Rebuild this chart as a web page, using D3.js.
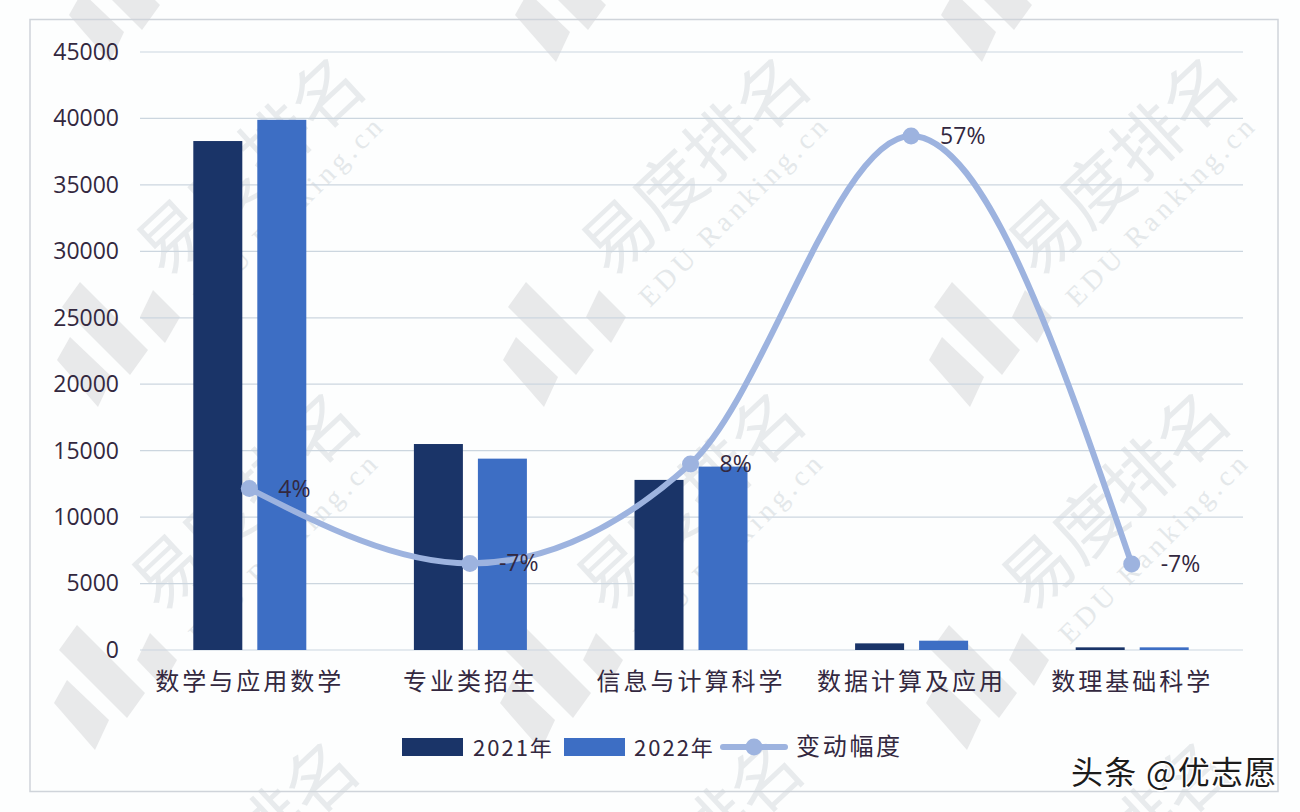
<!DOCTYPE html>
<html>
<head>
<meta charset="utf-8">
<script src="https://cdn.jsdelivr.net/npm/d3@7"></script>
<style>
  html, body { margin: 0; padding: 0; background: #fff; }
  svg { display: block; }
  text { font-family: "Noto Sans CJK SC", "Noto Sans", sans-serif; }
</style>
</head>
<body>
<script>
var categories = ['数学与应用数学', '专业类招生', '信息与计算科学', '数据计算及应用', '数理基础科学'];
var values2021 = [38300, 15500, 12800, 500, 200];
var values2022 = [39900, 14400, 13800, 700, 200];
var changeValues = [4.1, -7.1, 7.8, 56.9, -7.2];
var changeLabels = ['4%', '-7%', '8%', '57%', '-7%'];
var yTicks = [0, 5000, 10000, 15000, 20000, 25000, 30000, 35000, 40000, 45000];
var seriesNames = ['2021年', '2022年', '变动幅度'];

var width = 1300, height = 812;
var textColor = '#33283f', darkBlue = '#1a3468', midBlue = '#3d6ec4', lineBlue = '#9db3df';

var svg = d3.select('body').append('svg')
            .attr('width', width)
            .attr('height', height);

svg.append('rect').attr('width', width).attr('height', height).attr('fill', '#fdfefe');

// watermark first, the chart sits on top of it
var wm = svg.append('g');
var logoShapes = [
  [[0, 0], [68, 68], [50, 93], [-18, 25]],
  [[-10, 55], [32, 95], [18, 125], [-23, 78]],
  [[73, 8], [100, 35], [85, 61], [60, 35]]
];
var logoAnchors = [[92, -63], [526 + 12, -63], [952 + 12, -63],
                   [80, 282], [526, 282], [952, 282],
                   [77, 625], [523, 625], [949, 625]];
logoAnchors.forEach(function (a) {
  wm.append('g').attr('transform', 'translate(' + a[0] + ',' + a[1] + ')')
    .selectAll('path').data(logoShapes).enter().append('path')
    .attr('d', function (d) { return 'M' + d.join('L') + 'Z'; })
    .attr('fill', '#e8e9ea');
});
var nameAnchors = [[165, 279], [610, 279], [1037, 279], [160, 614], [605, 614], [1030, 614]];
nameAnchors.forEach(function (a) {
  wm.append('text')
    .attr('transform', 'translate(' + a[0] + ',' + a[1] + ') rotate(-43)')
    .attr('font-size', 70)
    .attr('fill', '#e8ebed')
    .text('易度排名');
});
// bottom row of the watermark, only the end of the name is in the picture
var nameTailAnchors = [[261, 868], [706, 868], [1133, 868]];
nameTailAnchors.forEach(function (a) {
  wm.append('text')
    .attr('transform', 'translate(' + a[0] + ',' + a[1] + ') rotate(-43)')
    .attr('font-size', 70)
    .attr('fill', '#e8ebed')
    .text('排名');
});
var urlAnchors = [[205, 308], [650, 308], [1077, 308], [200, 645], [645, 645], [1070, 645]];
urlAnchors.forEach(function (a) {
  wm.append('text')
    .attr('transform', 'translate(' + a[0] + ',' + a[1] + ') rotate(-45)')
    .attr('font-size', 28)
    .attr('letter-spacing', 4.6)
    .style('font-family', '"Liberation Serif", serif')
    .attr('fill', '#e4e8ea')
    .text('EDU Ranking.cn');
});

// chart frame
svg.append('rect')
  .attr('x', 30).attr('y', 19.5).attr('width', 1248).attr('height', 772)
  .attr('fill', 'none').attr('stroke', '#cfd4da').attr('stroke-width', 1.5);

var x = d3.scaleBand().domain(categories).range([139.5, 1242.5]);
var y = d3.scaleLinear().domain([0, 45000]).range([650, 52]);
var y2 = d3.scaleLinear().domain([-20, 60]).range([649.6, 115.2]);

// gridlines and tick labels
svg.append('g').attr('class', 'grid').selectAll('line').data(yTicks).enter().append('line')
  .attr('x1', 140).attr('x2', 1243)
  .attr('y1', function (d) { return y(d); })
  .attr('y2', function (d) { return y(d); })
  .attr('stroke', '#ccd6df').attr('stroke-width', 1.2);

var yAxis = d3.axisLeft(y).tickValues(yTicks).tickSize(0).tickPadding(21).tickFormat(d3.format('d'));
var yG = svg.append('g').attr('transform', 'translate(140,0)').call(yAxis);
yG.select('.domain').remove();
yG.selectAll('text').attr('font-size', 23).attr('fill', textColor).style('font-family', '"Open Sans", sans-serif');

var xAxis = d3.axisBottom(x).tickSize(0).tickPadding(23);
var xG = svg.append('g').attr('transform', 'translate(0,650)').call(xAxis);
xG.select('.domain').remove();
xG.selectAll('text').attr('font-size', 24).attr('letter-spacing', 3).attr('fill', textColor);

// bars
var barW = 49, gap = 15;
svg.append('g').selectAll('rect').data(values2021).enter().append('rect')
  .attr('x', function (d, i) { return x(categories[i]) + x.bandwidth() / 2 - gap / 2 - barW; })
  .attr('y', function (d) { return y(d); })
  .attr('width', barW)
  .attr('height', function (d) { return y(0) - y(d); })
  .attr('fill', darkBlue);
svg.append('g').selectAll('rect').data(values2022).enter().append('rect')
  .attr('x', function (d, i) { return x(categories[i]) + x.bandwidth() / 2 + gap / 2; })
  .attr('y', function (d) { return y(d); })
  .attr('width', barW)
  .attr('height', function (d) { return y(0) - y(d); })
  .attr('fill', midBlue);

// change line, on its own hidden axis
var px = function (d, i) { return x(categories[i]) + x.bandwidth() / 2 - 0.5; };
var line = d3.line().x(px).y(function (d) { return y2(d); }).curve(d3.curveMonotoneX);
svg.append('path').datum(changeValues)
  .attr('d', line)
  .attr('fill', 'none').attr('stroke', lineBlue).attr('stroke-width', 6).attr('stroke-linecap', 'round');
svg.append('g').selectAll('circle').data(changeValues).enter().append('circle')
  .attr('cx', px)
  .attr('cy', function (d) { return y2(d); })
  .attr('r', 8.5)
  .attr('fill', lineBlue);
svg.append('g').selectAll('text').data(changeValues).enter().append('text')
  .attr('x', function (d, i) { return px(d, i) + 29; })
  .attr('y', function (d) { return y2(d) + 8; })
  .attr('font-size', 23)
  .attr('fill', textColor)
  .style('font-family', '"Open Sans", sans-serif')
  .text(function (d, i) { return changeLabels[i]; });

// legend
var legend = svg.append('g');
legend.append('rect').attr('x', 402).attr('y', 738).attr('width', 61).attr('height', 18).attr('fill', darkBlue);
legend.append('text').attr('x', 473).attr('y', 756).attr('font-size', 22).attr('letter-spacing', 2).attr('fill', textColor).text(seriesNames[0]);
legend.append('rect').attr('x', 564).attr('y', 738).attr('width', 61).attr('height', 18).attr('fill', midBlue);
legend.append('text').attr('x', 634).attr('y', 756).attr('font-size', 22).attr('letter-spacing', 2).attr('fill', textColor).text(seriesNames[1]);
legend.append('line').attr('x1', 723).attr('x2', 785).attr('y1', 747).attr('y2', 747)
  .attr('stroke', lineBlue).attr('stroke-width', 6).attr('stroke-linecap', 'round');
legend.append('circle').attr('cx', 754).attr('cy', 747).attr('r', 8.5).attr('fill', lineBlue);
legend.append('text').attr('x', 796).attr('y', 755).attr('font-size', 24).attr('letter-spacing', 2.7).attr('fill', textColor).text(seriesNames[2]);

// platform mark bottom right
svg.append('text').attr('x', 1071).attr('y', 784)
  .attr('font-size', 32).attr('letter-spacing', 1.3).attr('fill', '#1c1c1c').attr('stroke', '#fff').attr('stroke-width', 3)
  .attr('paint-order', 'stroke')
  .text('头条 @优志愿');
</script>
</body>
</html>
